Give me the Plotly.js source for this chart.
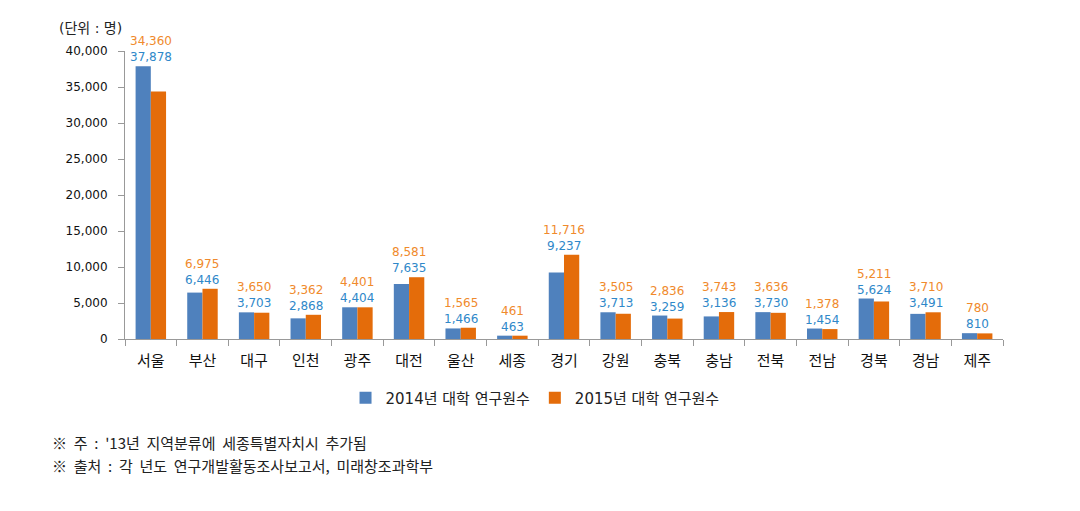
<!DOCTYPE html>
<html><head><meta charset="utf-8">
<script src="https://cdn.plot.ly/plotly-3.0.1.min.js"></script>
<style>body{margin:0;background:#fff}#c{width:1080px;height:511px}</style>
</head><body><div id="c"></div>
<script>
const regions = ['서울','부산','대구','인천','광주','대전','울산','세종','경기','강원','충북','충남','전북','전남','경북','경남','제주'];
const y2014 = [37878,6446,3703,2868,4404,7635,1466,463,9237,3713,3259,3136,3730,1454,5624,3491,810];
const y2015 = [34360,6975,3650,3362,4401,8581,1565,461,11716,3505,2836,3743,3636,1378,5211,3710,780];
const name2014 = '2014년 대학 연구원수';
const name2015 = '2015년 대학 연구원수';
const yTicks = [0,5000,10000,15000,20000,25000,30000,35000,40000];

const kfont = "'Noto Sans CJK KR', 'Noto Sans', sans-serif";
const nfont = "'DejaVu Sans', 'Noto Sans CJK KR', sans-serif";
const fmt = v => v.toLocaleString('en-US');

const annotations = [];
regions.forEach((r,i)=>{
  const top = Math.max(y2014[i], y2015[i]);
  annotations.push({x:r, y:top, text:fmt(y2014[i]), showarrow:false, yanchor:'middle', yshift:9, font:{family:nfont,size:12,color:'#2f88c9'}});
  annotations.push({x:r, y:top, text:fmt(y2015[i]), showarrow:false, yanchor:'middle', yshift:25, font:{family:nfont,size:12,color:'#f08a2c'}});
});
annotations.push({xref:'paper',yref:'paper',x:-0.078,y:1.08,xanchor:'left',yanchor:'middle',text:'(단위 : 명)',showarrow:false,font:{family:nfont,size:14,color:'#222'}});
annotations.push({xref:'paper',yref:'paper',x:-0.085,y:-0.358,xanchor:'left',yanchor:'middle',text:"※  주  :  '13년  지역분류에  세종특별자치시  추가됨",showarrow:false,font:{family:kfont,size:15,color:'#222'}});
annotations.push({xref:'paper',yref:'paper',x:-0.085,y:-0.4375,xanchor:'left',yanchor:'middle',text:"※  출처  :  각  년도  연구개발활동조사보고서,  미래창조과학부",showarrow:false,font:{family:kfont,size:15,color:'#222'}});

const data = [
  {type:'bar', name:name2014, x:regions, y:y2014, marker:{color:'#4f81bd'}},
  {type:'bar', name:name2015, x:regions, y:y2015, marker:{color:'#e46c0a'}}
];
const layout = {
  width:1080, height:511,
  margin:{l:125, r:77, t:51, b:172},
  paper_bgcolor:'#fff', plot_bgcolor:'#fff',
  barmode:'group', bargap:0.41, bargroupgap:0,
  font:{family:kfont, color:'#222'},
  xaxis:{type:'category', showline:true, linecolor:'#999', linewidth:1, ticks:'outside', tickson:'boundaries', ticklen:6, tickcolor:'#999', showgrid:false, ticklabelstandoff:8, tickfont:{family:kfont,size:15,color:'#111'}},
  yaxis:{range:[0,40000], tickvals:yTicks, ticktext:yTicks.map(fmt), showline:true, linecolor:'#999', linewidth:1, ticks:'outside', ticklen:6, tickcolor:'#999', showgrid:false, zeroline:false, ticklabelstandoff:8, tickfont:{family:nfont,size:12,color:'#111'}},
  legend:{orientation:'h', x:0.467, xanchor:'center', y:-0.205, yanchor:'middle', font:{family:nfont,size:15,color:'#222'}, itemwidth:30, tracegroupgap:0},
  showlegend:true,
  annotations:annotations
};
Plotly.newPlot('c', data, layout, {displayModeBar:false, staticPlot:true});
</script></body></html>
